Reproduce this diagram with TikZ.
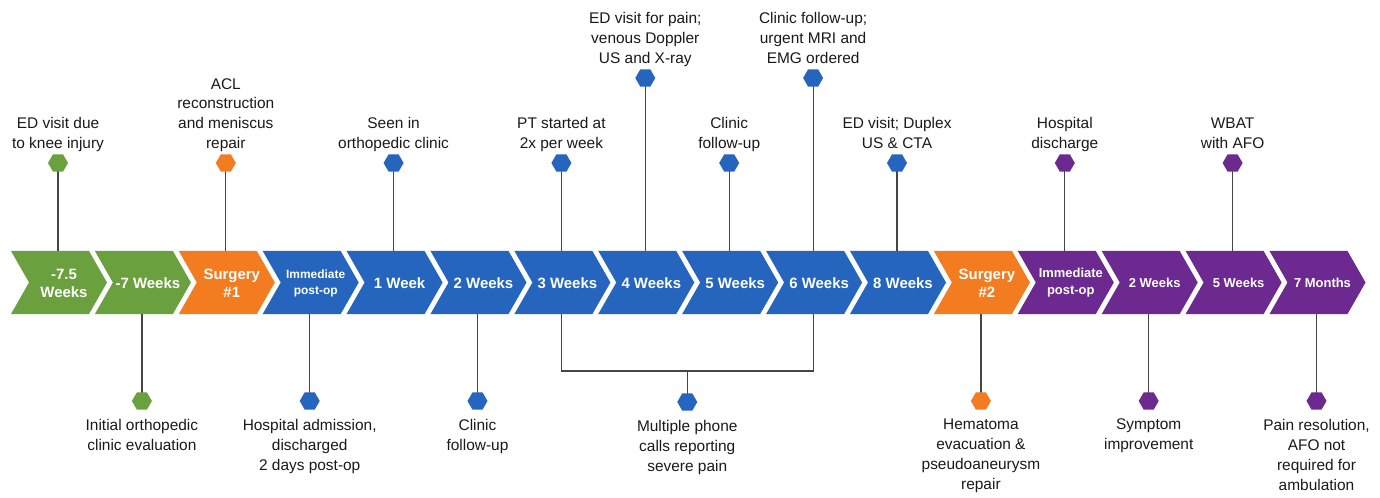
\documentclass[tikz,border=0pt]{standalone}
\usepackage{fontspec}
\setmainfont{Liberation Sans}
\usetikzlibrary{shapes.geometric,calc}
\definecolor{cgreen}{RGB}{106,160,62}
\definecolor{corange}{RGB}{244,124,32}
\definecolor{cblue}{RGB}{37,101,190}
\definecolor{cpurple}{RGB}{108,42,145}
\definecolor{cline}{RGB}{70,70,70}
\definecolor{ctext}{RGB}{26,26,26}
\begin{document}
\begin{tikzpicture}[x=1bp,y=-1bp,
  hex/.style={regular polygon, regular polygon sides=6, minimum size=20bp, inner sep=0pt, fill=#1},
  conn/.style={draw=cline, line width=1.2bp},
  lbl/.style={align=center, inner sep=0pt, text=ctext, font=\fontsize{15.5}{20}\selectfont},
  toplbl/.style={lbl, anchor=south, text depth=4bp},
  botlbl/.style={lbl, anchor=north},
  chevbig/.style={align=center, inner sep=0pt, text=white, font=\bfseries\fontsize{15}{18}\selectfont},
  chevmid/.style={align=center, inner sep=0pt, text=white, font=\bfseries\fontsize{13}{17}\selectfont},
  chevsmall/.style={align=center, inner sep=0pt, text=white, font=\bfseries\fontsize{12}{16}\selectfont}]
\useasboundingbox (0,0) rectangle (1380,498);
\fill[white] (0,0) rectangle (1380,498);
% chevrons
\foreach \i/\col/\sty/\txt in {
  0/cgreen/chevbig/{-7.5\\Weeks},
  1/cgreen/chevbig/{-7 Weeks},
  2/corange/chevbig/{Surgery\\\#1},
  3/cblue/chevsmall/{Immediate\\post-op},
  4/cblue/chevbig/{1 Week},
  5/cblue/chevbig/{2 Weeks},
  6/cblue/chevbig/{3 Weeks},
  7/cblue/chevbig/{4 Weeks},
  8/cblue/chevbig/{5 Weeks},
  9/cblue/chevbig/{6 Weeks},
  10/cblue/chevbig/{8 Weeks},
  11/corange/chevbig/{Surgery\\\#2},
  12/cpurple/chevmid/{Immediate\\post-op},
  13/cpurple/chevmid/{2 Weeks},
  14/cpurple/chevmid/{5 Weeks},
  15/cpurple/chevmid/{7 Months}}{
  \pgfmathsetmacro\xo{11+83.9*\i}
  \fill[\col] (\xo,251) -- (\xo+78,251) -- (\xo+96,282.5) -- (\xo+78,314) -- (\xo,314) -- (\xo+18,282.5) -- cycle;
  \node[\sty] (c\i) at (\xo+53,283) {\txt};
  \coordinate (c\i t) at (\xo+47,251);
  \coordinate (c\i b) at (\xo+47,314);
}
% top events
\foreach \i/\hy/\col/\txt in {
  0/163/cgreen/{ED visit due\\to knee injury},
  2/163/corange/{ACL\\reconstruction\\and meniscus\\repair},
  4/163/cblue/{Seen in\\orthopedic clinic},
  6/163/cblue/{PT started at\\2x per week},
  7/78/cblue/{ED visit for pain;\\venous Doppler\\US and X-ray},
  8/163/cblue/{Clinic\\follow-up},
  9/78/cblue/{Clinic follow-up;\\urgent MRI and\\EMG ordered},
  10/163/cblue/{ED visit; Duplex\\US \& CTA},
  12/163/cpurple/{Hospital\\discharge},
  14/163/cpurple/{WBAT\\with AFO}}{
  \pgfmathsetmacro\xo{11+83.9*\i}
  \draw[conn] (\xo+47,\hy) coordinate (hc\i) -- (c\i t);
  \node[hex=\col] (ht\i) at (hc\i) {};
  \node[toplbl] (lt\i) at (\xo+47,\hy-10) {\txt};
}
% bottom events
\foreach \i/\col/\txt in {
  1/cgreen/{Initial orthopedic\\clinic evaluation},
  3/cblue/{Hospital admission,\\discharged\\2 days post-op},
  5/cblue/{Clinic\\follow-up},
  11/corange/{Hematoma\\evacuation \&\\pseudoaneurysm\\repair},
  13/cpurple/{Symptom\\improvement},
  15/cpurple/{Pain resolution,\\AFO not\\required for\\ambulation}}{
  \pgfmathsetmacro\xo{11+83.9*\i}
  \draw[conn] (c\i b) -- (\xo+47,401) coordinate (hd\i);
  \node[hex=\col] (hb\i) at (hd\i) {};
  \node[botlbl] (lb\i) at (\xo+47,419) {\txt};
}
% bracket for phone calls
\coordinate (br) at ($(c6b)!0.5!(c9b)+(0,57)$);
\draw[conn] (c6b) |- (br) -| (c9b);
\draw[conn] (br) -- ++(0,31) coordinate (hbrc);
\node[hex=cblue] (hbr) at (hbrc) {};
\node[botlbl] (lbr) at ($(hbrc)+(0,18)$) {Multiple phone\\calls reporting\\severe pain};
\end{tikzpicture}
\end{document}
